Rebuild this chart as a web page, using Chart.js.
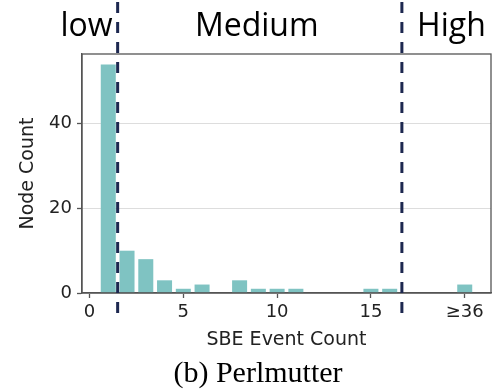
<!DOCTYPE html>
<html>
<head>
<meta charset="utf-8">
<script src="https://cdn.jsdelivr.net/npm/chart.js@4"></script>
<style>
    html, body { margin: 0; padding: 0; background: #ffffff; }
    canvas { display: block; }
</style>
</head>
<body>
<canvas id="sbeChart" width="492" height="391"></canvas>
<script>
// SBE event count bins (x position on the axis) and node counts
const binPositions = [1, 2, 3, 4, 5, 6, 8, 9, 10, 11, 15, 16, 20];
const nodeCounts = [54, 10, 8, 3, 1, 2, 3, 1, 1, 1, 1, 1, 2];

// Axis ticks
const xTickValues = [0, 5, 10, 15, 20];
const xTickLabels = ['0', '5', '10', '15', '≥36'];
const yTickValues = [0, 20, 40];

// Region split lines and their names
const thresholds = [1.5, 16.65];
const regionNames = ['low', 'Medium', 'High'];

const BAR_COLOR = '#7fc3c2';
const LINE_COLOR = '#1d2850';
const FRAME_COLOR = '#555555';

Chart.defaults.font.family = "'DejaVu Sans', sans-serif";
Chart.defaults.color = '#222222';

// Draws the box round the plot, the dashed split lines, region names and caption
const decorPlugin = {
    id: 'decor',
    afterDatasetsDraw(chart) {
        const { ctx, chartArea } = chart;
        ctx.save();
        ctx.strokeStyle = FRAME_COLOR;
        ctx.lineWidth = 1.3;
        ctx.strokeRect(chartArea.left, chartArea.top, chartArea.right - chartArea.left, chartArea.bottom - chartArea.top);
        ctx.restore();
    },
    afterDraw(chart) {
        const { ctx, chartArea } = chart;
        const xScale = chart.scales.x;
        const splitPx = thresholds.map(t => xScale.getPixelForValue(t));

        // Dashed split lines
        ctx.save();
        ctx.strokeStyle = LINE_COLOR;
        ctx.lineWidth = 3;
        ctx.setLineDash([11, 9]);
        splitPx.forEach(px => {
            ctx.beginPath();
            ctx.moveTo(px, 2);
            ctx.lineTo(px, 318);
            ctx.stroke();
        });
        ctx.restore();

        // Region names
        ctx.save();
        ctx.fillStyle = '#000000';
        ctx.font = "32px 'Open Sans', sans-serif";
        ctx.textBaseline = 'alphabetic';
        ctx.textAlign = 'right';
        ctx.fillText(regionNames[0], splitPx[0] - 5, 36);
        ctx.textAlign = 'center';
        ctx.fillText(regionNames[1], (splitPx[0] + splitPx[1]) / 2 - 3, 36);
        ctx.fillText(regionNames[2], (splitPx[1] + chartArea.right) / 2 + 5, 36);
        ctx.restore();

        // Caption
        ctx.save();
        ctx.fillStyle = '#000000';
        ctx.font = "30px 'Liberation Serif', serif";
        ctx.textAlign = 'center';
        ctx.textBaseline = 'alphabetic';
        ctx.fillText('(b) Perlmutter', 258, 382);
        ctx.restore();
    }
};

function initSbeChart() {
    const ctx = document.getElementById('sbeChart').getContext('2d');

    const sbeChart = new Chart(ctx, {
        type: 'bar',
        data: {
            datasets: [{
                label: 'Node Count',
                data: binPositions.map((x, i) => ({ x: x, y: nodeCounts[i] })),
                backgroundColor: BAR_COLOR,
                borderWidth: 0,
                barPercentage: 0.8,
                categoryPercentage: 1.0
            }]
        },
        options: {
            responsive: false,
            animation: false,
            devicePixelRatio: 1,
            layout: {
                padding: { top: 54, right: 1, left: 0, bottom: 38 }
            },
            scales: {
                x: {
                    type: 'linear',
                    min: -0.4,
                    max: 21.4,
                    offset: false,
                    afterBuildTicks: scale => {
                        scale.ticks = xTickValues.map(v => ({ value: v }));
                    },
                    afterFit: scale => {
                        scale.height = 60;
                    },
                    ticks: {
                        font: { size: 18 },
                        padding: 4,
                        maxRotation: 0,
                        autoSkip: false,
                        callback: value => xTickLabels[xTickValues.indexOf(value)]
                    },
                    grid: {
                        offset: false,
                        drawOnChartArea: false,
                        tickLength: 5,
                        tickColor: FRAME_COLOR,
                        tickWidth: 1.3
                    },
                    border: { color: FRAME_COLOR, width: 1.3 },
                    title: {
                        display: true,
                        text: 'SBE Event Count',
                        font: { size: 19 },
                        padding: { top: 0, bottom: 2 }
                    }
                },
                y: {
                    min: 0,
                    max: 56.5,
                    afterBuildTicks: scale => {
                        scale.ticks = yTickValues.map(v => ({ value: v }));
                    },
                    afterFit: scale => {
                        scale.width = 82;
                    },
                    ticks: {
                        font: { size: 18 },
                        padding: 5
                    },
                    grid: {
                        color: '#dddddd',
                        lineWidth: 1,
                        tickLength: 5,
                        tickColor: FRAME_COLOR,
                        tickWidth: 1.3
                    },
                    border: { color: FRAME_COLOR, width: 1.3 },
                    title: {
                        display: true,
                        text: 'Node Count',
                        font: { size: 19 },
                        padding: { top: 17, bottom: 0 }
                    }
                }
            },
            plugins: {
                legend: { display: false },
                tooltip: { enabled: false }
            }
        },
        plugins: [decorPlugin]
    });
}

document.addEventListener('DOMContentLoaded', () => {
    initSbeChart();
});
</script>
</body>
</html>
